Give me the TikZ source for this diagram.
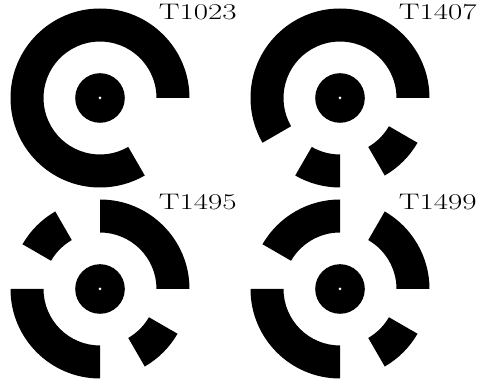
\documentclass[tikz,border=0pt]{standalone}
\usepackage{fontspec}
\setmainfont{Latin Modern Roman}
\begin{document}
\begin{tikzpicture}[x=1pt, y=1pt,
  seg/.style={fill=black},
  hole/.style={fill=white},
  lbl/.style={anchor=base east, inner sep=0pt, font=\fontsize{22.5}{27}\selectfont, xscale=1.38},
]
\useasboundingbox (0,0) rectangle (480,383);
% T1023
\begin{scope}[shift={(100,285)}]
  \foreach \a/\b in {0/300}
    \fill[seg] (\a:89.5) arc[start angle=\a, end angle=\b, radius=89.5] -- (\b:56.5) arc[start angle=\b, end angle=\a, radius=56.5] -- cycle;
  \fill[seg] (0,0) circle[radius=24.8];
  \fill[hole] (0,0) circle[radius=1.5];
\end{scope}
% T1407
\begin{scope}[shift={(340,285)}]
  \foreach \a/\b in {0/210, 240/270, 300/330}
    \fill[seg] (\a:89.5) arc[start angle=\a, end angle=\b, radius=89.5] -- (\b:56.5) arc[start angle=\b, end angle=\a, radius=56.5] -- cycle;
  \fill[seg] (0,0) circle[radius=24.8];
  \fill[hole] (0,0) circle[radius=1.5];
\end{scope}
% T1495
\begin{scope}[shift={(100,94)}]
  \foreach \a/\b in {0/90, 120/150, 180/270, 300/330}
    \fill[seg] (\a:89.5) arc[start angle=\a, end angle=\b, radius=89.5] -- (\b:56.5) arc[start angle=\b, end angle=\a, radius=56.5] -- cycle;
  \fill[seg] (0,0) circle[radius=24.8];
  \fill[hole] (0,0) circle[radius=1.5];
\end{scope}
% T1499
\begin{scope}[shift={(340,94)}]
  \foreach \a/\b in {0/60, 90/150, 180/270, 300/330}
    \fill[seg] (\a:89.5) arc[start angle=\a, end angle=\b, radius=89.5] -- (\b:56.5) arc[start angle=\b, end angle=\a, radius=56.5] -- cycle;
  \fill[seg] (0,0) circle[radius=24.8];
  \fill[hole] (0,0) circle[radius=1.5];
\end{scope}
\node[lbl] (lbl1023) at (237,363.5) {T1023};
\node[lbl] (lbl1407) at (477,363.5) {T1407};
\node[lbl] (lbl1495) at (237,173.7) {T1495};
\node[lbl] (lbl1499) at (477,173.7) {T1499};
\end{tikzpicture}
\end{document}
